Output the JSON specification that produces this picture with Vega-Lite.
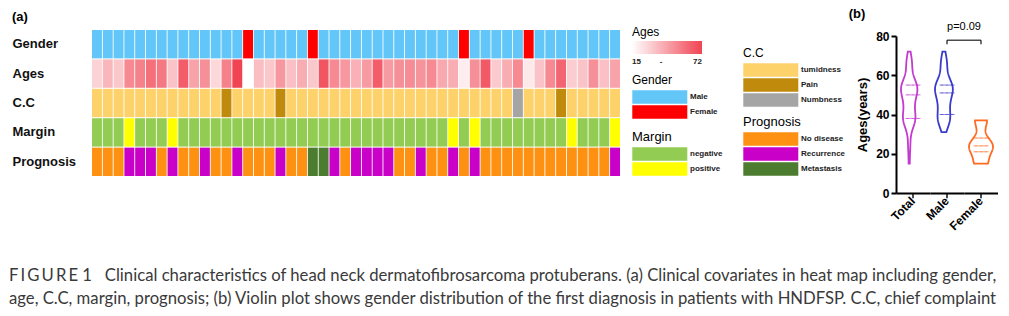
{
  "$schema": "https://vega.github.io/schema/vega-lite/v6.json",
  "padding": {"left": 9, "top": 7, "right": 0, "bottom": 0},
  "background": "white",
  "config": {
    "view": {"stroke": null},
    "font": "Liberation Sans",
    "legend": {"titleFontSize": 12, "titleFontWeight": "normal", "titleColor": "#000", "titleFont": "Liberation Sans", "labelFont": "Liberation Sans", "labelFontSize": 8, "labelFontWeight": "bold", "labelColor": "#222", "symbolType": "M-1,-1H7.2V1H-1Z", "symbolSize": 180, "symbolStrokeWidth": 0, "symbolOpacity": 1, "labelOffset": 44, "rowPadding": 1, "titlePadding": 3, "padding": 0, "orient": "none"}
  },
  "datasets": {
    "patients": [
      {"id": 1, "gender": "Male", "age": 33, "cc": "tumidness", "margin": "negative", "prognosis": "No disease"},
      {"id": 2, "gender": "Male", "age": 42, "cc": "tumidness", "margin": "negative", "prognosis": "No disease"},
      {"id": 3, "gender": "Male", "age": 37, "cc": "tumidness", "margin": "negative", "prognosis": "No disease"},
      {"id": 4, "gender": "Male", "age": 55, "cc": "tumidness", "margin": "positive", "prognosis": "Recurrence"},
      {"id": 5, "gender": "Male", "age": 57, "cc": "tumidness", "margin": "negative", "prognosis": "Recurrence"},
      {"id": 6, "gender": "Male", "age": 61, "cc": "tumidness", "margin": "negative", "prognosis": "Recurrence"},
      {"id": 7, "gender": "Male", "age": 59, "cc": "tumidness", "margin": "negative", "prognosis": "No disease"},
      {"id": 8, "gender": "Male", "age": 38, "cc": "tumidness", "margin": "positive", "prognosis": "Recurrence"},
      {"id": 9, "gender": "Male", "age": 66, "cc": "tumidness", "margin": "negative", "prognosis": "No disease"},
      {"id": 10, "gender": "Male", "age": 48, "cc": "tumidness", "margin": "negative", "prognosis": "No disease"},
      {"id": 11, "gender": "Male", "age": 53, "cc": "tumidness", "margin": "negative", "prognosis": "Recurrence"},
      {"id": 12, "gender": "Male", "age": 31, "cc": "tumidness", "margin": "negative", "prognosis": "No disease"},
      {"id": 13, "gender": "Male", "age": 57, "cc": "Pain", "margin": "negative", "prognosis": "No disease"},
      {"id": 14, "gender": "Male", "age": 72, "cc": "tumidness", "margin": "negative", "prognosis": "Recurrence"},
      {"id": 15, "gender": "Female", "age": 15, "cc": "tumidness", "margin": "negative", "prognosis": "No disease"},
      {"id": 16, "gender": "Male", "age": 40, "cc": "tumidness", "margin": "negative", "prognosis": "No disease"},
      {"id": 17, "gender": "Male", "age": 37, "cc": "tumidness", "margin": "negative", "prognosis": "No disease"},
      {"id": 18, "gender": "Male", "age": 51, "cc": "Pain", "margin": "negative", "prognosis": "Recurrence"},
      {"id": 19, "gender": "Male", "age": 39, "cc": "tumidness", "margin": "negative", "prognosis": "No disease"},
      {"id": 20, "gender": "Male", "age": 45, "cc": "tumidness", "margin": "negative", "prognosis": "No disease"},
      {"id": 21, "gender": "Female", "age": 37, "cc": "tumidness", "margin": "negative", "prognosis": "Metastasis"},
      {"id": 22, "gender": "Male", "age": 68, "cc": "tumidness", "margin": "negative", "prognosis": "Metastasis"},
      {"id": 23, "gender": "Male", "age": 55, "cc": "tumidness", "margin": "negative", "prognosis": "Recurrence"},
      {"id": 24, "gender": "Male", "age": 51, "cc": "tumidness", "margin": "negative", "prognosis": "No disease"},
      {"id": 25, "gender": "Male", "age": 44, "cc": "tumidness", "margin": "negative", "prognosis": "Recurrence"},
      {"id": 26, "gender": "Male", "age": 50, "cc": "tumidness", "margin": "negative", "prognosis": "Recurrence"},
      {"id": 27, "gender": "Male", "age": 66, "cc": "tumidness", "margin": "negative", "prognosis": "Recurrence"},
      {"id": 28, "gender": "Male", "age": 50, "cc": "tumidness", "margin": "negative", "prognosis": "Recurrence"},
      {"id": 29, "gender": "Male", "age": 53, "cc": "tumidness", "margin": "negative", "prognosis": "No disease"},
      {"id": 30, "gender": "Male", "age": 54, "cc": "tumidness", "margin": "negative", "prognosis": "No disease"},
      {"id": 31, "gender": "Male", "age": 52, "cc": "tumidness", "margin": "negative", "prognosis": "Recurrence"},
      {"id": 32, "gender": "Male", "age": 55, "cc": "tumidness", "margin": "negative", "prognosis": "No disease"},
      {"id": 33, "gender": "Male", "age": 46, "cc": "tumidness", "margin": "negative", "prognosis": "No disease"},
      {"id": 34, "gender": "Male", "age": 45, "cc": "tumidness", "margin": "positive", "prognosis": "Recurrence"},
      {"id": 35, "gender": "Female", "age": 23, "cc": "tumidness", "margin": "negative", "prognosis": "No disease"},
      {"id": 36, "gender": "Male", "age": 53, "cc": "tumidness", "margin": "positive", "prognosis": "Recurrence"},
      {"id": 37, "gender": "Male", "age": 67, "cc": "tumidness", "margin": "negative", "prognosis": "No disease"},
      {"id": 38, "gender": "Male", "age": 36, "cc": "tumidness", "margin": "negative", "prognosis": "No disease"},
      {"id": 39, "gender": "Male", "age": 45, "cc": "tumidness", "margin": "negative", "prognosis": "No disease"},
      {"id": 40, "gender": "Male", "age": 55, "cc": "Numbness", "margin": "negative", "prognosis": "No disease"},
      {"id": 41, "gender": "Female", "age": 25, "cc": "tumidness", "margin": "negative", "prognosis": "No disease"},
      {"id": 42, "gender": "Male", "age": 38, "cc": "tumidness", "margin": "negative", "prognosis": "No disease"},
      {"id": 43, "gender": "Male", "age": 55, "cc": "tumidness", "margin": "negative", "prognosis": "No disease"},
      {"id": 44, "gender": "Male", "age": 64, "cc": "Pain", "margin": "negative", "prognosis": "No disease"},
      {"id": 45, "gender": "Male", "age": 35, "cc": "tumidness", "margin": "positive", "prognosis": "No disease"},
      {"id": 46, "gender": "Male", "age": 38, "cc": "tumidness", "margin": "negative", "prognosis": "No disease"},
      {"id": 47, "gender": "Male", "age": 53, "cc": "tumidness", "margin": "negative", "prognosis": "No disease"},
      {"id": 48, "gender": "Male", "age": 39, "cc": "tumidness", "margin": "negative", "prognosis": "No disease"},
      {"id": 49, "gender": "Male", "age": 48, "cc": "tumidness", "margin": "positive", "prognosis": "Recurrence"}
    ],
    "violin": [
      {"group": "Total", "age": 33}, {"group": "Total", "age": 42}, {"group": "Total", "age": 37}, {"group": "Total", "age": 55}, {"group": "Total", "age": 57},
      {"group": "Total", "age": 61}, {"group": "Total", "age": 59}, {"group": "Total", "age": 38}, {"group": "Total", "age": 66}, {"group": "Total", "age": 48},
      {"group": "Total", "age": 53}, {"group": "Total", "age": 31}, {"group": "Total", "age": 57}, {"group": "Total", "age": 72}, {"group": "Total", "age": 15},
      {"group": "Total", "age": 40}, {"group": "Total", "age": 37}, {"group": "Total", "age": 51}, {"group": "Total", "age": 39}, {"group": "Total", "age": 45},
      {"group": "Total", "age": 37}, {"group": "Total", "age": 68}, {"group": "Total", "age": 55}, {"group": "Total", "age": 51}, {"group": "Total", "age": 44},
      {"group": "Total", "age": 50}, {"group": "Total", "age": 66}, {"group": "Total", "age": 50}, {"group": "Total", "age": 53}, {"group": "Total", "age": 54},
      {"group": "Total", "age": 52}, {"group": "Total", "age": 55}, {"group": "Total", "age": 46}, {"group": "Total", "age": 45}, {"group": "Total", "age": 23},
      {"group": "Total", "age": 53}, {"group": "Total", "age": 67}, {"group": "Total", "age": 36}, {"group": "Total", "age": 45}, {"group": "Total", "age": 55},
      {"group": "Total", "age": 25}, {"group": "Total", "age": 38}, {"group": "Total", "age": 55}, {"group": "Total", "age": 64}, {"group": "Total", "age": 35},
      {"group": "Total", "age": 38}, {"group": "Total", "age": 53}, {"group": "Total", "age": 39}, {"group": "Total", "age": 48},
      {"group": "Male", "age": 33}, {"group": "Male", "age": 42}, {"group": "Male", "age": 37}, {"group": "Male", "age": 55}, {"group": "Male", "age": 57},
      {"group": "Male", "age": 61}, {"group": "Male", "age": 59}, {"group": "Male", "age": 38}, {"group": "Male", "age": 66}, {"group": "Male", "age": 48},
      {"group": "Male", "age": 53}, {"group": "Male", "age": 31}, {"group": "Male", "age": 57}, {"group": "Male", "age": 72},
      {"group": "Male", "age": 40}, {"group": "Male", "age": 37}, {"group": "Male", "age": 51}, {"group": "Male", "age": 39}, {"group": "Male", "age": 45},
      {"group": "Male", "age": 68}, {"group": "Male", "age": 55}, {"group": "Male", "age": 51}, {"group": "Male", "age": 44},
      {"group": "Male", "age": 50}, {"group": "Male", "age": 66}, {"group": "Male", "age": 50}, {"group": "Male", "age": 53}, {"group": "Male", "age": 54},
      {"group": "Male", "age": 52}, {"group": "Male", "age": 55}, {"group": "Male", "age": 46}, {"group": "Male", "age": 45},
      {"group": "Male", "age": 53}, {"group": "Male", "age": 67}, {"group": "Male", "age": 36}, {"group": "Male", "age": 45}, {"group": "Male", "age": 55},
      {"group": "Male", "age": 38}, {"group": "Male", "age": 55}, {"group": "Male", "age": 64}, {"group": "Male", "age": 35},
      {"group": "Male", "age": 38}, {"group": "Male", "age": 53}, {"group": "Male", "age": 39}, {"group": "Male", "age": 48},
      {"group": "Female", "age": 15}, {"group": "Female", "age": 37}, {"group": "Female", "age": 23}, {"group": "Female", "age": 25}
    ]
  },
  "title": {
    "text": [
      "F\u2009I\u2009G\u2009U\u2009R\u2009E\u2009\u20091\u00a0\u00a0\u00a0Clinical characteristics of head neck dermatofibrosarcoma protuberans. (a) Clinical covariates in heat map including gender,",
      "age, C.C, margin, prognosis; (b) Violin plot shows gender distribution of the first diagnosis in patients with HNDFSP. C.C, chief complaint"
    ],
    "orient": "bottom", "anchor": "start", "frame": "bounds", "dx": -3, "offset": 36,
    "font": "Lato", "fontSize": 16.7, "fontWeight": "normal", "color": "#3a3a3a", "lineHeight": 23
  },
  "spacing": 2,
  "align": "none",
  "hconcat": [
    {
      "data": {"name": "patients"},
      "width": 528,
      "height": 146,
      "title": {"text": "(a)", "anchor": "start", "fontSize": 13, "fontWeight": "bold", "font": "Liberation Sans", "offset": 3, "color": "#000"},
      "encoding": {
        "x": {"field": "id", "type": "ordinal", "axis": null, "scale": {"paddingInner": 0.08, "paddingOuter": 0}}
      },
      "layer": [
        {
          "mark": {"type": "rect"},
          "encoding": {
            "y": {"datum": "Gender", "type": "nominal", "scale": {"domain": ["Gender", "Ages", "C.C", "Margin", "Prognosis"], "paddingInner": 0.035, "paddingOuter": 0},
                  "axis": {"title": null, "ticks": false, "tickSize": 0, "domain": false, "labelAlign": "left", "labelPadding": 80, "labelFontSize": 13, "labelFontWeight": "bold", "labelColor": "#111", "labelFont": "Liberation Sans"}},
            "color": {"field": "gender", "type": "nominal", "scale": {"domain": ["Male", "Female"], "range": ["#62c6f8", "#ff0000"]},
                      "legend": {"title": "Gender", "legendX": 540, "legendY": 45}}
          }
        },
        {
          "mark": {"type": "rect"},
          "encoding": {
            "y": {"datum": "Ages", "type": "nominal"},
            "color": {"field": "age", "type": "quantitative", "scale": {"type": "pow", "exponent": 1.5, "domain": [15, 72], "range": ["#ffffff", "#f04452"], "interpolate": "rgb"},
                      "legend": {"title": "Ages", "legendX": 540, "legendY": -3, "direction": "horizontal", "gradientLength": 70, "gradientThickness": 13, "gradientStrokeWidth": 0, "values": [15, 43.5, 72], "labelExpr": "datum.value === 43.5 ? '-' : datum.label", "labelOffset": 4, "titlePadding": 2}}
          }
        },
        {
          "mark": {"type": "rect"},
          "encoding": {
            "y": {"datum": "C.C", "type": "nominal"},
            "color": {"field": "cc", "type": "nominal", "scale": {"domain": ["tumidness", "Pain", "Numbness"], "range": ["#fdd26a", "#c08b0c", "#a5a5a5"]},
                      "legend": {"title": "C.C", "legendX": 651, "legendY": 18}}
          }
        },
        {
          "mark": {"type": "rect"},
          "encoding": {
            "y": {"datum": "Margin", "type": "nominal"},
            "color": {"field": "margin", "type": "nominal", "scale": {"domain": ["negative", "positive"], "range": ["#92cc52", "#ffff00"]},
                      "legend": {"title": "Margin", "titleFontSize": 13, "legendX": 540, "legendY": 101}}
          }
        },
        {
          "mark": {"type": "rect"},
          "encoding": {
            "y": {"datum": "Prognosis", "type": "nominal"},
            "color": {"field": "prognosis", "type": "nominal", "scale": {"domain": ["No disease", "Recurrence", "Metastasis"], "range": ["#ff9112", "#c800c8", "#4b7c2f"]},
                      "legend": {"title": "Prognosis", "titleFontSize": 13, "legendX": 651, "legendY": 86}}
          }
        }
      ],
      "resolve": {"scale": {"color": "independent"}}
    },
    {
      "data": {"name": "violin"},
      "title": {"text": "(b)", "anchor": "start", "fontSize": 13, "fontWeight": "bold", "font": "Liberation Sans", "dx": -8, "offset": 0, "color": "#000"},
      "bounds": "flush",
      "facet": {
        "column": {"field": "group", "type": "nominal", "sort": ["Total", "Male", "Female"], "title": null,
                   "header": {"labelOrient": "bottom", "labelAngle": -45, "labelAlign": "right", "labelBaseline": "middle", "labelFontSize": 12, "labelFontWeight": "bold", "labelFont": "Liberation Sans", "labelColor": "#000", "labelPadding": 6}}
      },
      "spacing": 0,
      "spec": {
        "width": 34,
        "height": 163,
        "layer": [
          {
            "transform": [{"density": "age", "groupby": ["group"], "bandwidth": 4, "resolve": "independent", "steps": 120}],
            "mark": {"type": "area", "orient": "horizontal", "fill": "white", "strokeWidth": 1.8},
            "encoding": {
              "y": {"field": "value", "type": "quantitative", "scale": {"domain": [0, 80], "nice": false, "range": [163, 6]},
                    "axis": {"values": [0, 20, 40, 60, 80], "title": "Ages(years)", "titleFontSize": 13, "titleFontWeight": "bold", "titleFont": "Liberation Sans", "titleColor": "#000", "labelFontSize": 12, "labelFontWeight": "bold", "labelFont": "Liberation Sans", "labelColor": "#000", "domainColor": "#000", "domainWidth": 2, "tickColor": "#000", "tickWidth": 2, "tickSize": 5, "grid": false, "titlePadding": 6}},
              "x": {"field": "density", "type": "quantitative", "stack": "center", "impute": null, "scale": {"padding": 5, "nice": false, "zero": true},
                    "axis": {"labels": false, "ticks": false, "grid": false, "title": null, "values": [], "domainColor": "#000", "domainWidth": 2}},
              "stroke": {"field": "group", "type": "nominal", "scale": {"domain": ["Total", "Male", "Female"], "range": ["#c43ad0", "#3a3acc", "#ff6a20"]}, "legend": null}
            }
          },
          {
            "transform": [{"quantile": "age", "groupby": ["group"], "probs": [0.25, 0.5, 0.75]}],
            "mark": {"type": "tick", "orient": "horizontal", "size": 15, "thickness": 0, "filled": false, "strokeDash": [3, 2], "strokeWidth": 1},
            "encoding": {
              "y": {"field": "value", "type": "quantitative"},
              "stroke": {"field": "group", "type": "nominal", "legend": null}
            }
          },
          {
            "transform": [{"aggregate": [{"op": "count", "as": "n"}], "groupby": ["group"]}],
            "mark": {"type": "tick", "orient": "vertical", "size": 5, "thickness": 2, "color": "#000"},
            "encoding": {"y": {"datum": -1.4}}
          },
          {
            "transform": [{"aggregate": [{"op": "count", "as": "n"}], "groupby": ["group"]}, {"filter": "datum.group === 'Male'"}],
            "mark": {"type": "tick", "orient": "horizontal", "size": 34, "thickness": 1.6, "color": "#000"},
            "encoding": {"x": {"value": "width"}, "y": {"datum": 77.8}}
          },
          {
            "transform": [{"aggregate": [{"op": "count", "as": "n"}], "groupby": ["group"]}, {"filter": "datum.group !== 'Total'"}],
            "mark": {"type": "tick", "orient": "vertical", "size": 4, "thickness": 1.6, "color": "#000"},
            "encoding": {"y": {"datum": 76.8}}
          },
          {
            "transform": [{"aggregate": [{"op": "count", "as": "n"}], "groupby": ["group"]}, {"filter": "datum.group === 'Male'"}],
            "mark": {"type": "text", "fontSize": 11, "font": "Liberation Sans", "baseline": "middle", "align": "center", "color": "#000"},
            "encoding": {"x": {"value": "width"}, "y": {"datum": 84.8}, "text": {"value": "p=0.09"}}
          }
        ]
      }
    }
  ]
}
